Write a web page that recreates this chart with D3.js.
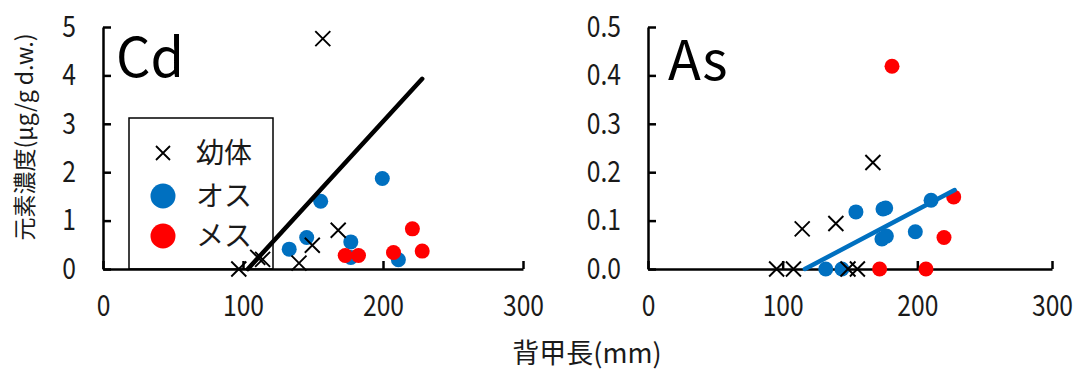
<!DOCTYPE html>
<html>
<head>
<meta charset="utf-8">
<script src="https://cdn.jsdelivr.net/npm/d3@7"></script>
<style>
  html, body { margin: 0; padding: 0; background: #fff; }
  svg { display: block; font-family: "Noto Sans CJK JP", "Noto Sans", sans-serif; }
</style>
</head>
<body>
<svg id="chart" width="1081" height="371"></svg>
<script>
// ---------- data ----------
const seriesNames = ["幼体", "オス", "メス"];
const xTicks = [0, 100, 200, 300];
const cdTicks = [0, 1, 2, 3, 4, 5];
const asTicks = [0, 0.1, 0.2, 0.3, 0.4, 0.5];
const asTickLabels = ["0.0", "0.1", "0.2", "0.3", "0.4", "0.5"];

// Cd panel
const cdJuvX = [97, 110.5, 114, 140, 149.5, 168, 157];
const cdJuvY = [0, 0.24, 0.2, 0.12, 0.49, 0.80, 4.76];
const cdMaleX = [133, 145.5, 155.5, 177, 177, 199.5, 211];
const cdMaleY = [0.41, 0.65, 1.40, 0.56, 0.24, 1.87, 0.19];
const cdFemX = [173, 182.5, 207.5, 221, 228];
const cdFemY = [0.28, 0.28, 0.34, 0.83, 0.37];
const cdTrendX = [103.5, 228];
const cdTrendY = [0, 3.93];

// As panel
const asJuvX = [95.5, 108, 114.5, 139.5, 167, 148.5, 155.5];
const asJuvY = [0, 0, 0.083, 0.094, 0.220, 0, 0];
const asMaleX = [132, 144, 154.4, 174.5, 176.5, 173.7, 177, 198.5, 210.2];
const asMaleY = [0, 0, 0.118, 0.124, 0.126, 0.062, 0.068, 0.077, 0.142];
const asFemX = [181.2, 172, 206.4, 219.8, 227];
const asFemY = [0.419, 0, 0, 0.065, 0.149];
const asTrendX = [116.5, 227.7];
const asTrendY = [0, 0.163];

// ---------- drawing ----------
const BLUE = "#0070C0", RED = "#FF0000";
const svg = d3.select("#chart");
const SX = 0.85; // horizontal compression for tick digits

function panel(opts) {
  const x = d3.scaleLinear().domain([0, 300]).range(opts.xRange);
  const y = d3.scaleLinear().domain(opts.yDomain).range([269, 27]);
  const g = svg.append("g");

  const yAxis = d3.axisLeft(y).tickValues(opts.yTicks).tickSizeInner(-8).tickSizeOuter(0).tickPadding(27)
    .tickFormat((d, i) => opts.yLabels[i]);
  const ya = g.append("g").attr("transform", `translate(${opts.xRange[0]},0)`).call(yAxis);
  const xAxis = d3.axisBottom(x).tickValues(xTicks).tickSizeInner(-8).tickSizeOuter(0).tickPadding(26);
  const xa = g.append("g").attr("transform", `translate(0,269)`).call(xAxis);
  [ya, xa].forEach(a => {
    a.select(".domain").attr("stroke", "#000").attr("stroke-width", 2.5);
    a.selectAll(".tick line").attr("stroke", "#000").attr("stroke-width", 2.5);
    a.selectAll(".tick text").attr("fill", "#1a1a1a").style("font-size", "29px")
      .attr("font-family", "'Noto Sans CJK JP', 'Noto Sans', sans-serif");
  });
  ya.selectAll(".tick text").attr("x", -27 / SX).attr("transform", `scale(${SX},1)`);
  xa.selectAll(".tick text").attr("x", 0).attr("transform", `scale(${SX},1)`);

  g.append("text").attr("x", opts.labelX).attr("y", opts.labelY)
    .style("font-size", "54px").attr("fill", "#000").text(opts.label);

  g.append("g").selectAll("circle").data(opts.maleX).join("circle")
    .attr("cx", d => x(d)).attr("cy", (d, i) => y(opts.maleY[i])).attr("r", 7.5).attr("fill", BLUE);
  g.append("g").selectAll("circle").data(opts.femX).join("circle")
    .attr("cx", d => x(d)).attr("cy", (d, i) => y(opts.femY[i])).attr("r", 7.5).attr("fill", RED);
  g.append("g").selectAll("path").data(opts.juvX).join("path")
    .attr("transform", (d, i) => `translate(${x(d)},${y(opts.juvY[i])})`)
    .attr("d", "M-7.5,-7.5L7.5,7.5M-7.5,7.5L7.5,-7.5")
    .attr("stroke", "#000").attr("stroke-width", 1.9).attr("fill", "none");
  const line = d3.line().x(d => x(d[0])).y(d => y(d[1]));
  g.append("path").datum(opts.trendX.map((v, i) => [v, opts.trendY[i]]))
    .attr("d", line).attr("stroke", opts.trendColor).attr("stroke-width", 4.5)
    .attr("fill", "none").attr("stroke-linecap", "round");
  return g;
}

panel({
  xRange: [103, 523], yDomain: [0, 5], yTicks: cdTicks, yLabels: cdTicks.map(String),
  label: "Cd", labelX: 116, labelY: 77,
  juvX: cdJuvX, juvY: cdJuvY, maleX: cdMaleX, maleY: cdMaleY, femX: cdFemX, femY: cdFemY,
  trendX: cdTrendX, trendY: cdTrendY, trendColor: "#000"
});
panel({
  xRange: [648, 1052], yDomain: [0, 0.5], yTicks: asTicks, yLabels: asTickLabels,
  label: "As", labelX: 668, labelY: 80,
  juvX: asJuvX, juvY: asJuvY, maleX: asMaleX, maleY: asMaleY, femX: asFemX, femY: asFemY,
  trendX: asTrendX, trendY: asTrendY, trendColor: BLUE
});

// legend
const lg = svg.append("g");
lg.append("rect").attr("x", 129).attr("y", 118).attr("width", 144).attr("height", 151)
  .attr("fill", "none").attr("stroke", "#000").attr("stroke-width", 1.5);
const legY = [153, 196, 236];
lg.append("path").attr("transform", `translate(163,${legY[0]})`)
  .attr("d", "M-7,-7L7,7M-7,7L7,-7").attr("stroke", "#000").attr("stroke-width", 1.8);
lg.append("circle").attr("cx", 163).attr("cy", legY[1]).attr("r", 12.5).attr("fill", BLUE);
lg.append("circle").attr("cx", 163).attr("cy", legY[2]).attr("r", 12.5).attr("fill", RED);
lg.selectAll("text.leg").data(seriesNames).join("text").attr("class", "leg")
  .attr("x", 196).attr("y", (d, i) => legY[i]).attr("dy", "0.36em")
  .style("font-size", "28px").attr("fill", "#1a1a1a").text(d => d);

// axis titles
svg.append("text").attr("transform", "translate(25,137) rotate(-90)")
  .attr("text-anchor", "middle").attr("dy", "0.36em").style("font-size", "23px").attr("fill", "#1a1a1a")
  .text("元素濃度(μg/g d.w.)");
svg.append("text").attr("x", 587).attr("y", 353).attr("text-anchor", "middle").attr("dy", "0.36em")
  .style("font-size", "27px").attr("fill", "#1a1a1a").text("背甲長(mm)");
</script>
</body>
</html>
